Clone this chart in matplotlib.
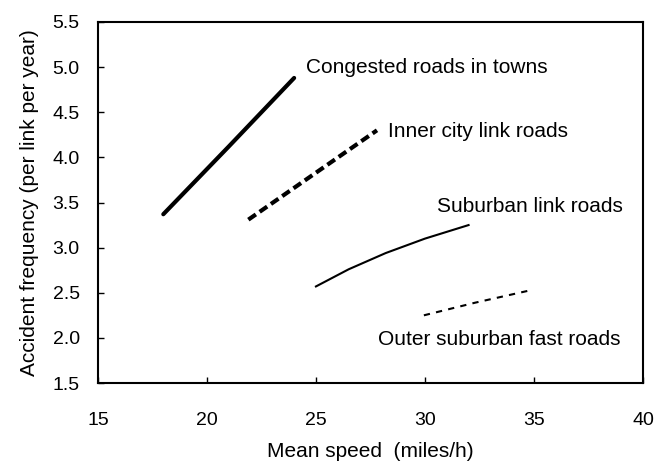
import matplotlib.pyplot as plt

plt.rcParams['font.family'] = ['Liberation Sans', 'DejaVu Sans']

# mean speed (miles/h) vs accident frequency (per link per year)
congested_x = [18, 21, 24]
congested_y = [3.37, 4.12, 4.88]
inner_x = [21.9, 25, 27.8]
inner_y = [3.31, 3.83, 4.30]
suburban_x = [25.0, 26.5, 28.2, 30.0, 32.0]
suburban_y = [2.57, 2.76, 2.94, 3.10, 3.25]
outer_x = [29.95, 32.3, 34.7]
outer_y = [2.25, 2.39, 2.52]

fig = plt.figure(figsize=(6.57, 4.65), dpi=100)
ax = fig.add_axes([0.149, 0.1763, 0.8297, 0.7764])

ax.plot(congested_x, congested_y, color='black', lw=3.0, solid_capstyle='round')
ax.plot(inner_x, inner_y, color='black', lw=3.0, ls=(0, (2.2, 1.1)))
ax.plot(suburban_x, suburban_y, color='black', lw=1.5)
ax.plot(outer_x, outer_y, color='black', lw=1.5, ls=(0, (3, 3)))

fs = 15
ax.text(24.55, 4.935, 'Congested roads in towns', fontsize=fs, va='baseline')
ax.text(28.3, 4.23, 'Inner city link roads', fontsize=fs, va='baseline')
ax.text(30.55, 3.39, 'Suburban link roads', fontsize=fs, va='baseline')
ax.text(27.84, 1.92, 'Outer suburban fast roads', fontsize=fs, va='baseline')

ax.set_xlim(15, 40)
ax.set_ylim(1.5, 5.5)
ax.set_xticks([15, 20, 25, 30, 35, 40])
ax.set_yticks([1.5, 2.0, 2.5, 3.0, 3.5, 4.0, 4.5, 5.0, 5.5])
ax.set_yticklabels(['%.1f' % v for v in ax.get_yticks()])

for s in ax.spines.values():
    s.set_linewidth(1.5)
ax.tick_params(direction='in', length=4, width=1, labelsize=14)
ax.tick_params(axis='y', pad=13)
ax.tick_params(axis='x', pad=21)

ax.set_xlabel('Mean speed  (miles/h)', fontsize=fs, labelpad=9)
ax.set_ylabel('Accident frequency (per link per year)', fontsize=fs, labelpad=10)

fig.savefig('out.png', dpi=100)
